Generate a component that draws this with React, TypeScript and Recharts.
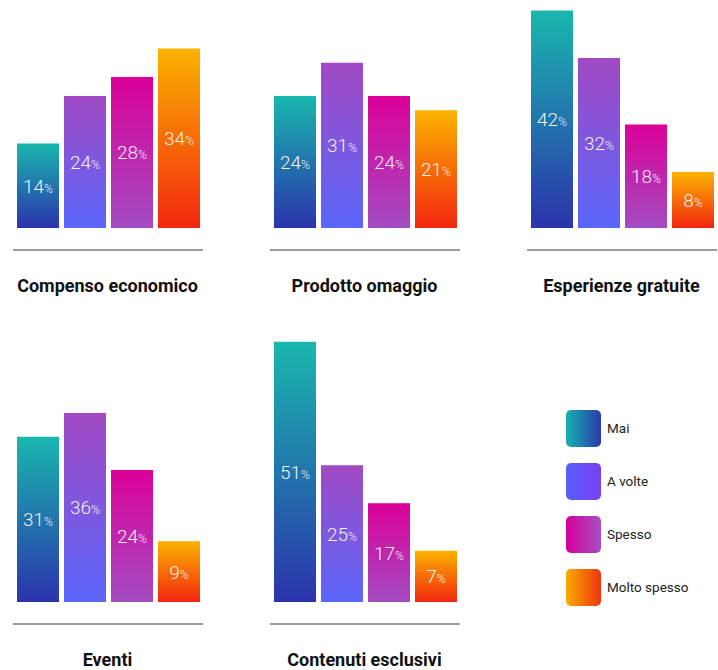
import { BarChart, Bar, XAxis, YAxis, Cell } from 'recharts';

const series = ['Mai', 'A volte', 'Spesso', 'Molto spesso'];

const compenso = [14, 24, 28, 34];
const prodotto = [24, 31, 24, 21];
const esperienze = [42, 32, 18, 8];
const eventi = [31, 36, 24, 9];
const contenuti = [51, 25, 17, 7];

// vertical gradients for bars: [top, bottom]
const barGrad = [
  ['#19b7ae', '#2b33ab'],
  ['#a24ac4', '#5a66fa'],
  ['#dc0098', '#a34cc2'],
  ['#fbb300', '#f2260f'],
];
// horizontal gradients for legend swatches: [left, right]
const legendGrad = [
  ['#18b2ae', '#2a3aaa'],
  ['#5560fa', '#7a3ef2'],
  ['#d6009c', '#a650c0'],
  ['#f9ab00', '#ef3512'],
];

const PX = 4.75; // px per percent point
const BASE = -3.8; // bars have a small visual floor

type PanelProps = {
  id: string;
  title: string;
  values: number[];
  left: number;
  bottom: number;
  max: number;
};

function BarShape(props: any) {
  const { x, y, width, fill, value, floor } = props;
  const h = floor - y;
  const cx = x + width / 2;
  const cy = y + h / 2;
  return (
    <g>
      <rect x={x} y={y} width={width} height={h} fill={fill} />
      <text
        x={cx}
        y={cy + 7}
        textAnchor="middle"
        fill="#ffffff"
        fillOpacity={0.94}
        fontFamily="Roboto, sans-serif"
        fontWeight={300}
      >
        <tspan fontSize={19}>{value}</tspan>
        <tspan fontSize={12}>%</tspan>
      </text>
    </g>
  );
}

function Panel({ id, title, values, left, bottom, max }: PanelProps) {
  const height = Math.round((max - BASE) * PX);
  const data = series.map((s, i) => ({ name: s, value: values[i] }));
  return (
    <>
      <div style={{ position: 'absolute', left, top: bottom - height, width: 188, height }}>
        <BarChart
          width={188}
          height={height}
          data={data}
          margin={{ top: 0, right: 0, bottom: 0, left: 0 }}
          barCategoryGap={5}
        >
          <defs>
            {barGrad.map((g, i) => (
              <linearGradient key={i} id={`${id}-g${i}`} x1="0" y1="0" x2="0" y2="1">
                <stop offset="0%" stopColor={g[0]} />
                <stop offset="100%" stopColor={g[1]} />
              </linearGradient>
            ))}
          </defs>
          <XAxis dataKey="name" hide />
          <YAxis hide type="number" domain={[BASE, max]} />
          <Bar
            dataKey="value"
            barSize={42}
            isAnimationActive={false}
            shape={(p: any) => <BarShape {...p} floor={height} />}
          >
            {data.map((_, i) => (
              <Cell key={i} fill={`url(#${id}-g${i})`} />
            ))}
          </Bar>
        </BarChart>
      </div>
      <div
        style={{
          position: 'absolute',
          left: left - 0.5,
          top: bottom + 21,
          width: 190,
          height: 2,
          background: '#9c9c9c',
        }}
      />
      <div
        style={{
          position: 'absolute',
          left: left - 30,
          top: bottom + 46,
          width: 248,
          height: 24,
          lineHeight: '24px',
          textAlign: 'center',
          fontFamily: 'Roboto, sans-serif',
          fontWeight: 700,
          fontSize: 18,
          color: '#111',
        }}
      >
        {title}
      </div>
    </>
  );
}

export default function App() {
  return (
    <div
      style={{
        position: 'absolute',
        left: 0,
        top: 0,
        width: 718,
        height: 670,
        background: '#fff',
        overflow: 'hidden',
      }}
    >
      <Panel id="p1" title="Compenso economico" values={compenso} left={13.5} bottom={228} max={44} />
      <Panel id="p2" title="Prodotto omaggio" values={prodotto} left={270.5} bottom={228} max={44} />
      <Panel id="p3" title="Esperienze gratuite" values={esperienze} left={527.5} bottom={228} max={44} />
      <Panel id="p4" title="Eventi" values={eventi} left={13.5} bottom={602} max={52} />
      <Panel id="p5" title="Contenuti esclusivi" values={contenuti} left={270.5} bottom={602} max={52} />

      {series.map((s, i) => (
        <div key={s}>
          <div
            style={{
              position: 'absolute',
              left: 566,
              top: 410 + i * 53,
              width: 35,
              height: 37,
              borderRadius: 5,
              background: `linear-gradient(to right, ${legendGrad[i][0]}, ${legendGrad[i][1]})`,
            }}
          />
          <div
            style={{
              position: 'absolute',
              left: 607,
              top: 419 + i * 53,
              height: 18,
              lineHeight: '18px',
              fontFamily: 'Roboto, sans-serif',
              fontSize: 13.5,
              color: '#222',
              whiteSpace: 'nowrap',
            }}
          >
            {s}
          </div>
        </div>
      ))}
    </div>
  );
}
